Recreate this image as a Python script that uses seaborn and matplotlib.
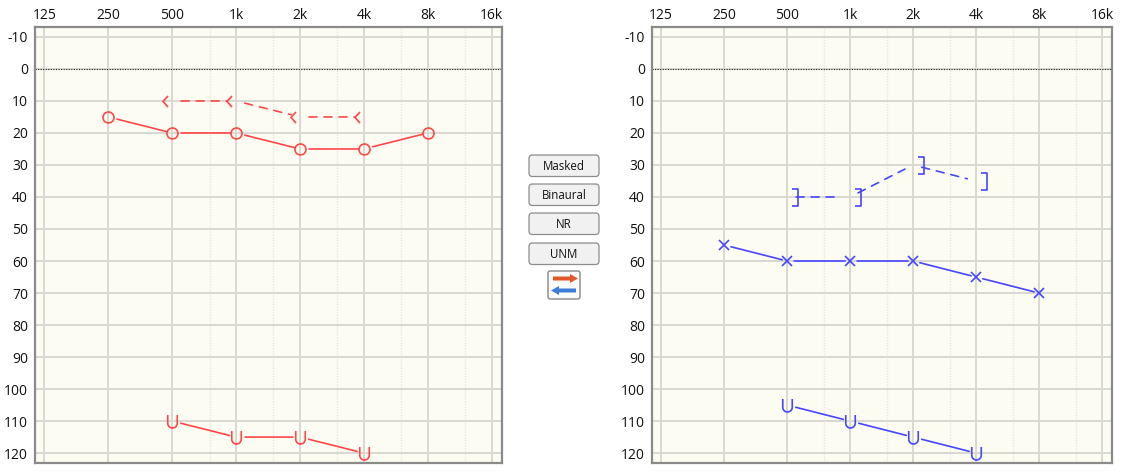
import numpy as np
import matplotlib
matplotlib.use("Agg")
import matplotlib.pyplot as plt
from matplotlib.path import Path
from matplotlib.patches import FancyBboxPatch, FancyArrow
import seaborn as sns

# ---------------- data ----------------
tick_freqs = [125, 250, 500, 1000, 2000, 4000, 8000, 16000]
tick_labels = ["125", "250", "500", "1k", "2k", "4k", "8k", "16k"]
minor_freqs = [750, 1500, 3000, 6000, 12000]
db_ticks = list(range(-10, 121, 10))

ac_freqs = [250, 500, 1000, 2000, 4000, 8000]
left_ac = [15, 20, 20, 25, 25, 20]
right_ac = [55, 60, 60, 60, 65, 70]

bc_freqs = [500, 1000, 2000, 4000]
left_bc = [10, 10, 15, 15]
right_bc = [40, 40, 30, 35]

nr_freqs = [500, 1000, 2000, 4000]
left_nr = [110, 115, 115, 120]
right_nr = [105, 110, 115, 120]

buttons = ["Masked", "Binaural", "NR", "UNM"]

# ---------------- style ----------------
RED = "#ff4747"
BLUE = "#4646ff"
BG = "#fcfcf3"
W, H = 1130, 476
DPI = 100
PX = 72.0 / DPI  # points per pixel

sns.set_theme(style="white")
plt.rcParams["font.family"] = ["Open Sans", "DejaVu Sans"]
plt.rcParams["mathtext.fontset"] = "dejavusans"


def path_marker(verts):
    verts = np.asarray(verts, float)
    codes = [Path.MOVETO] + [Path.LINETO] * (len(verts) - 1)
    ms = 2 * np.max(np.abs(verts)) * PX
    return Path(verts, codes), ms


# chevron "<" offset left of the point
chev_path, chev_ms = path_marker([(-4.5, 5.5), (-9.5, 0), (-4.5, -5.5)])
# bracket "]" offset right of the point
brk_path, brk_ms = path_marker([(5, 8.5), (10.5, 8.5), (10.5, -8.5), (5, -8.5)])
# "U" shape
t = np.linspace(np.pi, 2 * np.pi, 15)
u_verts = [(-4.75, 6.5)] + [(4.75 * np.cos(a), -1.75 + 4.75 * np.sin(a)) for a in t] + [(4.75, 6.5)]
u_path, u_ms = path_marker(u_verts)

fig = plt.figure(figsize=(W / DPI, H / DPI), dpi=DPI)
fig.patch.set_facecolor("white")

xlo = 125 * 2 ** (-0.145)
xhi = 16000 * 2 ** (0.16)


def setup_axes(rect):
    ax = fig.add_axes(rect)
    ax.set_facecolor(BG)
    ax.set_xscale("log", base=2)
    ax.set_xlim(xlo, xhi)
    ax.set_ylim(123.1, -13.1)
    ax.set_xticks(tick_freqs)
    ax.set_xticklabels(tick_labels)
    ax.set_xticks(minor_freqs, minor=True)
    ax.set_xticklabels([], minor=True)
    ax.set_yticks(db_ticks)
    ax.set_yticklabels([str(v) for v in db_ticks])
    ax.xaxis.tick_top()
    ax.tick_params(axis="both", which="both", length=0, labelsize=10, colors="#111111")
    ax.tick_params(axis="x", pad=3)
    ax.tick_params(axis="y", pad=5)
    ax.grid(True, which="major", axis="both", color="#d9d9d2", lw=1.4)
    ax.grid(True, which="minor", axis="x", color="#e7e7e0", lw=1.0, ls=(0, (1, 1)))
    ax.set_axisbelow(True)
    for s in ax.spines.values():
        s.set_color("#8a8a8a")
        s.set_linewidth(1.6)
        s.set_visible(True)
    ax.axhline(0, color="#222222", lw=0.8, ls=(0, (1, 1.3)), zorder=1.5)
    ax.minorticks_off() if False else None
    return ax


axL = setup_axes([35 / W, 13 / H, 467 / W, 436 / H])
axR = setup_axes([652 / W, 13 / H, 460 / W, 436 / H])


def connect(ax, xs, ys, color, dashed=False, shrink_a=9, shrink_b=5):
    ls = (0, (4.8, 4.2)) if dashed else "-"
    for (x1, y1), (x2, y2) in zip(zip(xs[:-1], ys[:-1]), zip(xs[1:], ys[1:])):
        ax.annotate("", xy=(x2, y2), xytext=(x1, y1),
                    arrowprops=dict(arrowstyle="-", color=color, lw=1.2, linestyle=ls,
                                    shrinkA=shrink_a * PX, shrinkB=shrink_b * PX),
                    zorder=3)


def markers(ax, xs, ys, color, marker, ms, mew=1.2, filled=False):
    sns.lineplot(x=xs, y=ys, ax=ax, color=color, linestyle="", marker=marker,
                 markersize=ms, markerfacecolor="none", markeredgecolor=color,
                 markeredgewidth=mew, zorder=4, legend=False)


# left ear (red)
connect(axL, ac_freqs, left_ac, RED)
markers(axL, ac_freqs, left_ac, RED, "o", 7.9)
connect(axL, bc_freqs, left_bc, RED, dashed=True, shrink_a=9, shrink_b=9)
markers(axL, bc_freqs, left_bc, RED, chev_path, chev_ms)
connect(axL, nr_freqs, left_nr, RED, shrink_a=9, shrink_b=7)
markers(axL, nr_freqs, left_nr, RED, u_path, u_ms)

# right ear (blue)
connect(axR, ac_freqs, right_ac, BLUE, shrink_a=7, shrink_b=5)
markers(axR, ac_freqs, right_ac, BLUE, "x", 7.7)
connect(axR, bc_freqs, right_bc, BLUE, dashed=True, shrink_a=9, shrink_b=9)
markers(axR, bc_freqs, right_bc, BLUE, brk_path, brk_ms)
connect(axR, nr_freqs, right_nr, BLUE, shrink_a=9, shrink_b=7)
markers(axR, nr_freqs, right_nr, BLUE, u_path, u_ms)

# ---------------- middle controls (pixel overlay) ----------------
ov = fig.add_axes([0, 0, 1, 1], zorder=10)
ov.set_xlim(0, W)
ov.set_ylim(H, 0)
ov.axis("off")
ov.patch.set_alpha(0)

btn_top = [155, 184, 213, 243]
for label, top in zip(buttons, btn_top):
    h = 21.5
    box = FancyBboxPatch((529, top), 70, h, boxstyle="round,pad=0,rounding_size=3.5",
                         facecolor="#f1f1f1", edgecolor="#8c8c8c", lw=0.9)
    ov.add_patch(box)
    ov.text(564, top + h / 2 + 0.5, label, ha="center", va="center", fontsize=8.3,
            color="#111111")

icon = FancyBboxPatch((548, 271), 32, 28, boxstyle="round,pad=0,rounding_size=2",
                      facecolor="#fafafa", edgecolor="#7a7a7a", lw=0.9)
ov.add_patch(icon)
ov.add_patch(FancyArrow(553, 278.5, 17, 0, width=4, head_width=9, head_length=8,
                        length_includes_head=False, color="#e0572c", lw=0))
ov.add_patch(FancyArrow(576, 290.5, -17, 0, width=4, head_width=9, head_length=8,
                        length_includes_head=False, color="#3b7dd8", lw=0))

fig.savefig("out.png", dpi=DPI, facecolor="white")
